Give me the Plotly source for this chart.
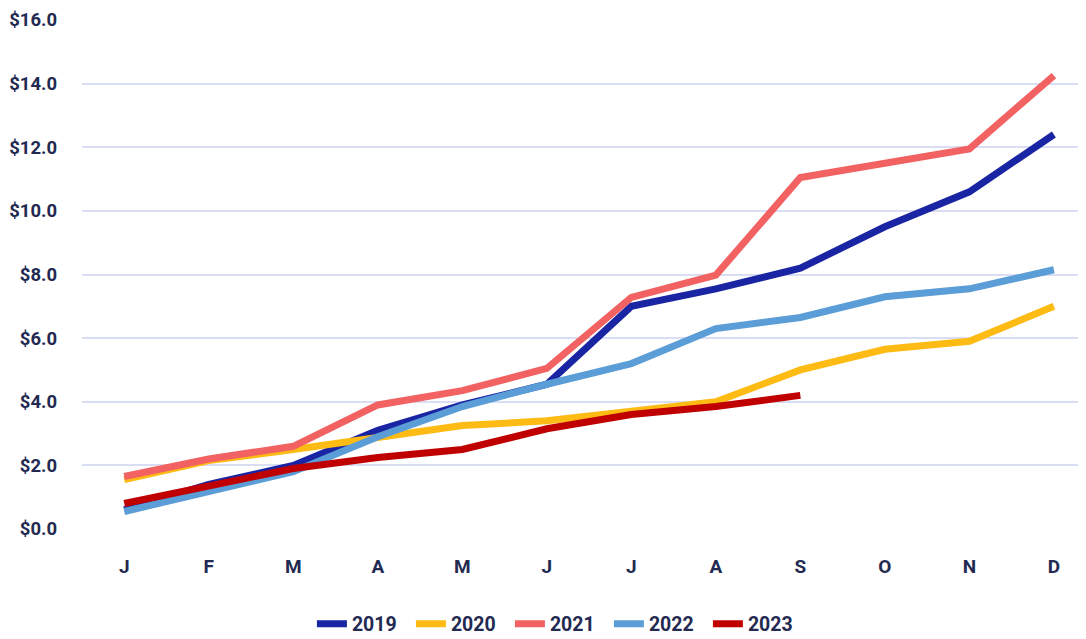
import plotly.graph_objects as go

months = ["J", "F", "M", "A", "M", "J", "J", "A", "S", "O", "N", "D"]
years = ["2019", "2020", "2021", "2022", "2023"]
v2019 = [0.6, 1.4, 2.0, 3.1, 3.9, 4.55, 7.0, 7.55, 8.2, 9.5, 10.6, 12.4]
v2020 = [1.55, 2.15, 2.5, 2.85, 3.25, 3.4, 3.7, 4.0, 5.0, 5.65, 5.9, 7.0]
v2021 = [1.65, 2.2, 2.6, 3.9, 4.35, 5.05, 7.28, 7.98, 11.05, 11.5, 11.95, 14.25]
v2022 = [0.55, 1.2, 1.8, 2.9, 3.85, 4.55, 5.2, 6.3, 6.65, 7.3, 7.55, 8.15]
v2023 = [0.8, 1.35, 1.9, 2.25, 2.5, 3.15, 3.6, 3.85, 4.2]
y_ticks = [0, 2, 4, 6, 8, 10, 12, 14, 16]
series = [v2019, v2020, v2021, v2022, v2023]
colors = ["#1a25a3", "#fdbb14", "#f26262", "#5b9dd6", "#c00000"]

x_idx = list(range(len(months)))

fig = go.Figure()
for name, vals, col in zip(years, series, colors):
    fig.add_trace(go.Scatter(
        x=x_idx[:len(vals)], y=vals, name=name, mode="lines",
        line=dict(color=col, width=7),
    ))

txt = "#232a52"
fnt = "Roboto, sans-serif"
fig.update_layout(
    width=1078, height=631,
    margin=dict(l=74, r=0, t=12, b=110, autoexpand=False),
    paper_bgcolor="white", plot_bgcolor="white",
    font=dict(family=fnt, size=18.5, color=txt, weight="bold"),
    showlegend=True,
    legend=dict(orientation="h", xanchor="left", x=0.229, yanchor="middle", y=-0.1866,
                font=dict(family=fnt, size=19.5, color=txt, weight="bold"),
                entrywidth=54, entrywidthmode="pixels", tracegroupgap=0),
    xaxis=dict(
        tickmode="array", tickvals=x_idx, ticktext=months,
        range=[-0.5, 11.38], showgrid=False, zeroline=False, showline=False,
        ticks="", ticklabelstandoff=24, automargin=False,
        tickfont=dict(size=19),
    ),
    yaxis=dict(
        range=[0, 16], tickmode="array", tickvals=y_ticks,
        ticktext=[f"${v:.1f}" for v in y_ticks],
        showgrid=True, gridcolor="#d9def5", gridwidth=1.5,
        zeroline=False, showline=False, ticks="", ticklabelstandoff=24,
        automargin=False,
    ),
)

fig.write_html("out.html")
